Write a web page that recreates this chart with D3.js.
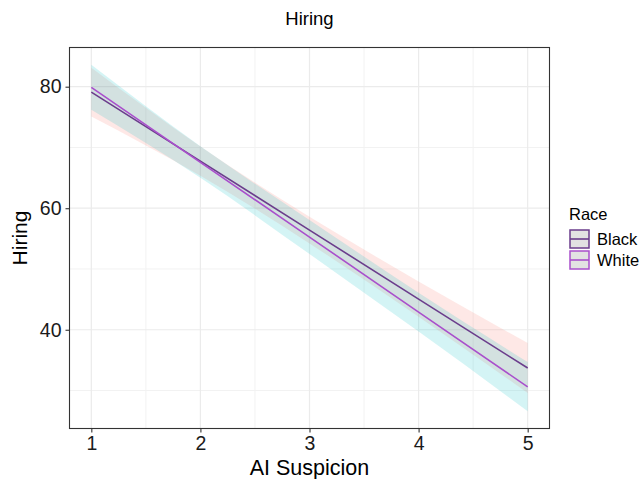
<!DOCTYPE html>
<html><head><meta charset="utf-8">
<script src="https://cdn.jsdelivr.net/npm/d3@7"></script>
<style>body{margin:0;background:#fff;} svg{display:block;font-family:"Liberation Sans",Arial,sans-serif;}</style>
</head><body><svg id="c" width="644" height="479"></svg>
<script>
const xs = [1, 2, 3, 4, 5];
const xTicks = [1, 2, 3, 4, 5];
const yTicks = [40, 60, 80];
const races = ["Black", "White"];
const blackFit = [79.1, 67.75, 56.4, 45.05, 33.7];
const blackLower = [75.1, 65.35, 54.2, 42.15, 29.6];
const blackUpper = [83.1, 70.15, 58.6, 47.95, 37.8];
const whiteFit = [79.9, 67.55, 55.25, 42.9, 30.6];
const whiteLower = [76.2, 65.0, 52.45, 39.7, 26.6];
const whiteUpper = [83.6, 70.2, 58.05, 46.1, 34.7];
const lineColors = {Black: "#6b3d8c", White: "#a94fcc"};
const fillColors = {Black: "#F8766D", White: "#00BFC4"};

const series = [
  {name: "Black", fit: blackFit, lo: blackLower, hi: blackUpper},
  {name: "White", fit: whiteFit, lo: whiteLower, hi: whiteUpper}
];

const svg = d3.select("#c");
const L = 69.5, R = 549.5, T = 47.5, B = 428.5;
const x = d3.scaleLinear().domain([0.8, 5.2]).range([L, R]);
const y = d3.scaleLinear().domain([23.75, 86.45]).range([B, T]);

// grid
const g = svg.append("g");
const yMinor = [30, 50, 70];
const xMinor = [1.5, 2.5, 3.5, 4.5];
g.selectAll(".ymn").data(yMinor).enter().append("line")
  .attr("x1", L).attr("x2", R).attr("y1", d => y(d)).attr("y2", d => y(d))
  .attr("stroke", "#f2f2f2").attr("stroke-width", 1);
g.selectAll(".xmn").data(xMinor).enter().append("line")
  .attr("y1", T).attr("y2", B).attr("x1", d => x(d)).attr("x2", d => x(d))
  .attr("stroke", "#f2f2f2").attr("stroke-width", 1);
g.selectAll(".ymj").data(yTicks).enter().append("line")
  .attr("x1", L).attr("x2", R).attr("y1", d => y(d)).attr("y2", d => y(d))
  .attr("stroke", "#ebebeb").attr("stroke-width", 1.2);
g.selectAll(".xmj").data(xTicks).enter().append("line")
  .attr("y1", T).attr("y2", B).attr("x1", d => x(d)).attr("x2", d => x(d))
  .attr("stroke", "#ebebeb").attr("stroke-width", 1.2);

// ribbons
const area = d3.area().x((d, i) => x(xs[i])).y0(d => y(d[0])).y1(d => y(d[1])).curve(d3.curveNatural);
series.forEach(s => {
  const pts = s.lo.map((v, i) => [v, s.hi[i]]);
  svg.append("path").datum(pts).attr("d", area)
    .attr("fill", fillColors[s.name]).attr("fill-opacity", 0.17);
});
// lines
const line = d3.line().x((d, i) => x(xs[i])).y(d => y(d));
series.forEach(s => {
  svg.append("path").datum(s.fit).attr("d", line)
    .attr("fill", "none").attr("stroke", lineColors[s.name]).attr("stroke-width", 1.6);
});

// border
svg.append("rect").attr("x", L).attr("y", T).attr("width", R - L).attr("height", B - T)
  .attr("fill", "none").attr("stroke", "#333").attr("stroke-width", 1.1);

// axes
const xa = svg.append("g").attr("transform", `translate(0,${B})`)
  .call(d3.axisBottom(x).tickValues(xTicks).tickSize(4).tickPadding(4).tickFormat(d3.format("d")));
const ya = svg.append("g").attr("transform", `translate(${L},0)`)
  .call(d3.axisLeft(y).tickValues(yTicks).tickSize(4).tickPadding(4).tickFormat(d3.format("d")));
[xa, ya].forEach(a => {
  a.select(".domain").remove();
  a.selectAll(".tick line").attr("stroke", "#333").attr("stroke-width", 1.1);
  a.selectAll("text").attr("fill", "#1a1a1a").style("font-size", "19.5px").style("font-family", "'Liberation Sans', Arial, sans-serif");
});

// titles
svg.append("text").attr("x", (L + R) / 2).attr("y", 25).attr("text-anchor", "middle")
  .style("font-size", "18.5px").attr("fill", "#000").text("Hiring");
svg.append("text").attr("x", (L + R) / 2).attr("y", 475).attr("text-anchor", "middle")
  .style("font-size", "21.5px").attr("fill", "#000").text("AI Suspicion");
svg.append("text").attr("transform", `translate(26.5,${(T + B) / 2}) rotate(-90)`).attr("text-anchor", "middle")
  .style("font-size", "21px").attr("fill", "#000").text("Hiring");

// legend
const lg = svg.append("g");
lg.append("text").attr("x", 569).attr("y", 219.5).style("font-size", "16.5px").attr("fill", "#000").text("Race");
races.forEach((r, i) => {
  const ky = 230 + i * 21;
  lg.append("rect").attr("x", 570).attr("y", ky).attr("width", 19).attr("height", 18)
    .attr("fill", "#e2e2e2").attr("stroke", lineColors[r]).attr("stroke-width", 1.5);
  lg.append("line").attr("x1", 570).attr("x2", 589).attr("y1", ky + 9).attr("y2", ky + 9)
    .attr("stroke", lineColors[r]).attr("stroke-width", 1.6);
  lg.append("text").attr("x", 597).attr("y", ky + 14.5).style("font-size", "16.5px").attr("fill", "#000").text(r);
});
</script></body></html>
